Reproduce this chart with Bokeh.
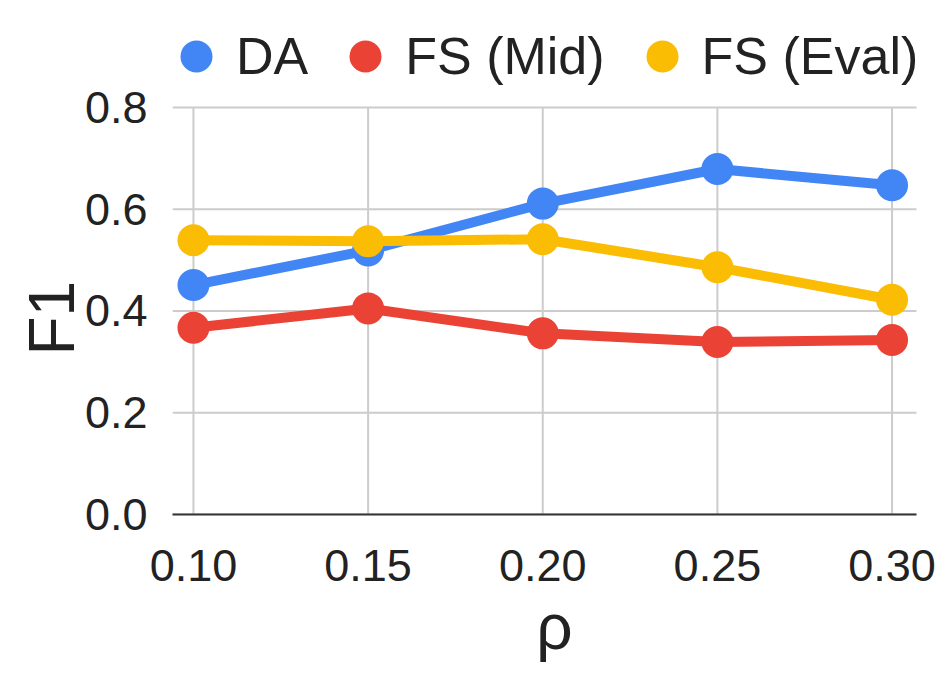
from bokeh.plotting import figure
from bokeh.models import Legend, LegendItem, FixedTicker, Range1d, NumeralTickFormatter, Title
from bokeh.embed import file_html
from bokeh.resources import INLINE

rho = [0.10, 0.15, 0.20, 0.25, 0.30]
da = [0.451, 0.519, 0.611, 0.679, 0.647]
fs_mid = [0.367, 0.405, 0.356, 0.339, 0.343]
fs_eval = [0.539, 0.537, 0.541, 0.486, 0.422]
series_names = ["DA", "FS (Mid)", "FS (Eval)"]
colors = ["#4285F4", "#EA4335", "#FBBC04"]
x_ticks = [0.10, 0.15, 0.20, 0.25, 0.30]
y_ticks = [0.0, 0.2, 0.4, 0.6, 0.8]

FONT = "Liberation Sans"
W, H = 936, 665
FRAME_LEFT = 172
FRAME_BOTTOM = 519          # screen y of the 0.0 line
X_LO, X_HI = 0.094, 0.307   # visible plot span (172 .. 916 px)
PX_PER_X = 744 / (X_HI - X_LO)
X_END = X_HI + (W - FRAME_LEFT - 744) / PX_PER_X   # frame widened so the legend is not clipped
PX_PER_UNIT = 411 / 0.8     # 0.8 at screen y 108
Y_TOP = FRAME_BOTTOM / PX_PER_UNIT

p = figure(width=W, height=H, output_backend="svg", toolbar_location=None,
           x_range=Range1d(X_LO, X_END), y_range=Range1d(0.0, Y_TOP),
           min_border_left=FRAME_LEFT, min_border_right=0, min_border_top=0,
           min_border_bottom=H - FRAME_BOTTOM)
p.outline_line_color = None

# grid lines limited to the plot span
p.xgrid.visible = False
p.ygrid.visible = False
p.segment(x0=x_ticks, x1=x_ticks, y0=[y_ticks[0]] * len(x_ticks), y1=[y_ticks[-1]] * len(x_ticks),
          line_color="#cccccc", line_width=2)
p.segment(x0=[X_LO] * len(y_ticks), x1=[X_HI] * len(y_ticks), y0=y_ticks, y1=y_ticks,
          line_color="#cccccc", line_width=2)

items = []
for name, ys, c in zip(series_names, [da, fs_mid, fs_eval], colors):
    p.line(rho, ys, line_color=c, line_width=10)
    r = p.scatter(rho, ys, size=32, fill_color=c, line_color=None)
    items.append(LegendItem(label=name, renderers=[r]))

legend = Legend(items=items, orientation="horizontal", location=(-16, 418),
                glyph_width=80, glyph_height=80, label_standoff=0, spacing=17,
                padding=10, margin=0, border_line_color=None, background_fill_alpha=0,
                label_text_font=FONT, label_text_font_size="52px", label_text_color="#222222")
p.add_layout(legend)

p.xaxis.ticker = FixedTicker(ticks=x_ticks)
p.yaxis.ticker = FixedTicker(ticks=y_ticks)
p.xaxis.formatter = NumeralTickFormatter(format="0.00")
p.yaxis.formatter = NumeralTickFormatter(format="0.0")
p.xaxis.bounds = (X_LO, X_HI)

for ax in [p.xaxis[0], p.yaxis[0]]:
    ax.major_tick_line_color = None
    ax.minor_tick_line_color = None
    ax.major_label_text_font = FONT
    ax.major_label_text_font_size = "45px"
    ax.major_label_text_color = "#222222"
    ax.axis_label_text_font = FONT
    ax.axis_label_text_font_style = "normal"
    ax.axis_label_text_color = "#222222"

p.xaxis.major_label_standoff = 29
p.yaxis.major_label_standoff = 19

p.xaxis.axis_label = "ρ"
p.xaxis.axis_label_text_font_size = "64px"
p.xaxis.axis_line_color = "#333333"
p.xaxis.axis_line_width = 2
p.xaxis.axis_label_standoff = 7

p.yaxis.axis_line_color = None

# y-axis title centred on the 0.0–0.8 span
ytitle = Title(text="F1", align="left", offset=159, standoff=-12,
               text_font=FONT, text_font_size="64px", text_font_style="normal",
               text_color="#222222")
p.add_layout(ytitle, "left")

open("out.html", "w").write(file_html(p, INLINE))
